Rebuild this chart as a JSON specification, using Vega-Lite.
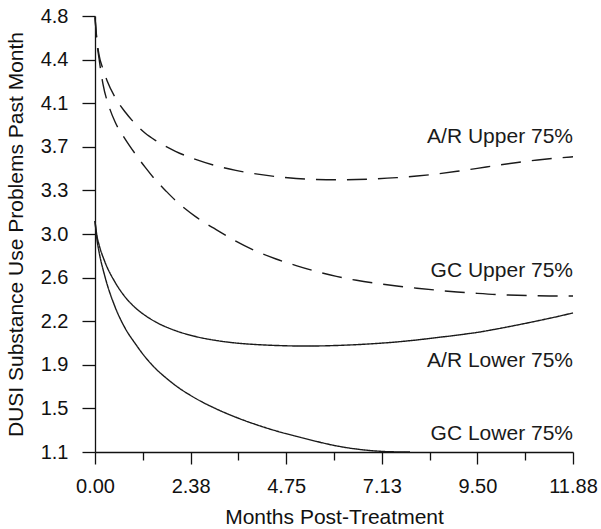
{
  "$schema": "https://vega.github.io/schema/vega-lite/v6.json",
  "width": 478,
  "height": 436,
  "autosize": {"type": "none"},
  "padding": {"left": 95, "top": 16, "right": 28, "bottom": 77},
  "background": "white",
  "config": {
    "view": {"stroke": null},
    "font": "Liberation Sans",
    "axis": {"grid": false, "domainColor": "#111", "labelColor": "#111", "titleColor": "#111", "domainWidth": 1.3, "labelFont": "Liberation Sans", "titleFont": "Liberation Sans", "titleFontWeight": "normal"}
  },
  "datasets": {
    "curves": [
      {"series": "AR Upper", "kind": "dashed", "month": 0, "value": 4.79},
      {"series": "AR Upper", "kind": "dashed", "month": 0.05, "value": 4.59},
      {"series": "AR Upper", "kind": "dashed", "month": 0.1, "value": 4.47},
      {"series": "AR Upper", "kind": "dashed", "month": 0.2, "value": 4.35},
      {"series": "AR Upper", "kind": "dashed", "month": 0.3, "value": 4.25},
      {"series": "AR Upper", "kind": "dashed", "month": 0.5, "value": 4.11},
      {"series": "AR Upper", "kind": "dashed", "month": 0.75, "value": 3.985},
      {"series": "AR Upper", "kind": "dashed", "month": 1.0, "value": 3.885},
      {"series": "AR Upper", "kind": "dashed", "month": 1.25, "value": 3.805},
      {"series": "AR Upper", "kind": "dashed", "month": 1.5, "value": 3.745},
      {"series": "AR Upper", "kind": "dashed", "month": 1.75, "value": 3.695},
      {"series": "AR Upper", "kind": "dashed", "month": 2.0, "value": 3.652},
      {"series": "AR Upper", "kind": "dashed", "month": 2.5, "value": 3.583},
      {"series": "AR Upper", "kind": "dashed", "month": 3.0, "value": 3.53},
      {"series": "AR Upper", "kind": "dashed", "month": 3.5, "value": 3.49},
      {"series": "AR Upper", "kind": "dashed", "month": 4.0, "value": 3.46},
      {"series": "AR Upper", "kind": "dashed", "month": 4.5, "value": 3.437},
      {"series": "AR Upper", "kind": "dashed", "month": 5.0, "value": 3.421},
      {"series": "AR Upper", "kind": "dashed", "month": 5.5, "value": 3.413},
      {"series": "AR Upper", "kind": "dashed", "month": 6.0, "value": 3.41},
      {"series": "AR Upper", "kind": "dashed", "month": 6.5, "value": 3.412},
      {"series": "AR Upper", "kind": "dashed", "month": 7.0, "value": 3.418},
      {"series": "AR Upper", "kind": "dashed", "month": 7.5, "value": 3.428},
      {"series": "AR Upper", "kind": "dashed", "month": 8.0, "value": 3.442},
      {"series": "AR Upper", "kind": "dashed", "month": 8.5, "value": 3.46},
      {"series": "AR Upper", "kind": "dashed", "month": 9.0, "value": 3.482},
      {"series": "AR Upper", "kind": "dashed", "month": 9.5, "value": 3.507},
      {"series": "AR Upper", "kind": "dashed", "month": 10.0, "value": 3.533},
      {"series": "AR Upper", "kind": "dashed", "month": 10.5, "value": 3.557},
      {"series": "AR Upper", "kind": "dashed", "month": 11.0, "value": 3.578},
      {"series": "AR Upper", "kind": "dashed", "month": 11.5, "value": 3.595},
      {"series": "AR Upper", "kind": "dashed", "month": 11.88, "value": 3.605},
      {"series": "GC Upper", "kind": "dashed", "month": 0, "value": 4.79},
      {"series": "GC Upper", "kind": "dashed", "month": 0.05, "value": 4.57},
      {"series": "GC Upper", "kind": "dashed", "month": 0.1, "value": 4.44},
      {"series": "GC Upper", "kind": "dashed", "month": 0.2, "value": 4.22},
      {"series": "GC Upper", "kind": "dashed", "month": 0.35, "value": 4.03},
      {"series": "GC Upper", "kind": "dashed", "month": 0.5, "value": 3.9},
      {"series": "GC Upper", "kind": "dashed", "month": 0.75, "value": 3.755},
      {"series": "GC Upper", "kind": "dashed", "month": 1.0, "value": 3.63},
      {"series": "GC Upper", "kind": "dashed", "month": 1.25, "value": 3.515},
      {"series": "GC Upper", "kind": "dashed", "month": 1.5, "value": 3.41},
      {"series": "GC Upper", "kind": "dashed", "month": 1.75, "value": 3.32},
      {"series": "GC Upper", "kind": "dashed", "month": 2.0, "value": 3.235},
      {"series": "GC Upper", "kind": "dashed", "month": 2.25, "value": 3.162},
      {"series": "GC Upper", "kind": "dashed", "month": 2.5, "value": 3.097},
      {"series": "GC Upper", "kind": "dashed", "month": 2.75, "value": 3.04},
      {"series": "GC Upper", "kind": "dashed", "month": 3.0, "value": 2.99},
      {"series": "GC Upper", "kind": "dashed", "month": 3.5, "value": 2.89},
      {"series": "GC Upper", "kind": "dashed", "month": 4.0, "value": 2.805},
      {"series": "GC Upper", "kind": "dashed", "month": 4.5, "value": 2.738},
      {"series": "GC Upper", "kind": "dashed", "month": 5.0, "value": 2.682},
      {"series": "GC Upper", "kind": "dashed", "month": 5.5, "value": 2.632},
      {"series": "GC Upper", "kind": "dashed", "month": 6.0, "value": 2.59},
      {"series": "GC Upper", "kind": "dashed", "month": 6.5, "value": 2.557},
      {"series": "GC Upper", "kind": "dashed", "month": 7.0, "value": 2.531},
      {"series": "GC Upper", "kind": "dashed", "month": 7.5, "value": 2.509},
      {"series": "GC Upper", "kind": "dashed", "month": 8.0, "value": 2.49},
      {"series": "GC Upper", "kind": "dashed", "month": 8.5, "value": 2.473},
      {"series": "GC Upper", "kind": "dashed", "month": 9.0, "value": 2.458},
      {"series": "GC Upper", "kind": "dashed", "month": 9.5, "value": 2.446},
      {"series": "GC Upper", "kind": "dashed", "month": 10.0, "value": 2.436},
      {"series": "GC Upper", "kind": "dashed", "month": 10.5, "value": 2.43},
      {"series": "GC Upper", "kind": "dashed", "month": 11.0, "value": 2.426},
      {"series": "GC Upper", "kind": "dashed", "month": 11.5, "value": 2.424},
      {"series": "GC Upper", "kind": "dashed", "month": 11.88, "value": 2.424},
      {"series": "AR Lower", "kind": "solid", "month": 0, "value": 3.06},
      {"series": "AR Lower", "kind": "solid", "month": 0.05, "value": 2.93},
      {"series": "AR Lower", "kind": "solid", "month": 0.1, "value": 2.86},
      {"series": "AR Lower", "kind": "solid", "month": 0.25, "value": 2.71},
      {"series": "AR Lower", "kind": "solid", "month": 0.5, "value": 2.54},
      {"series": "AR Lower", "kind": "solid", "month": 0.75, "value": 2.415},
      {"series": "AR Lower", "kind": "solid", "month": 1.0, "value": 2.325},
      {"series": "AR Lower", "kind": "solid", "month": 1.25, "value": 2.258},
      {"series": "AR Lower", "kind": "solid", "month": 1.5, "value": 2.205},
      {"series": "AR Lower", "kind": "solid", "month": 2.0, "value": 2.13},
      {"series": "AR Lower", "kind": "solid", "month": 2.5, "value": 2.08},
      {"series": "AR Lower", "kind": "solid", "month": 3.0, "value": 2.047},
      {"series": "AR Lower", "kind": "solid", "month": 3.5, "value": 2.025},
      {"series": "AR Lower", "kind": "solid", "month": 4.0, "value": 2.012},
      {"series": "AR Lower", "kind": "solid", "month": 4.5, "value": 2.004},
      {"series": "AR Lower", "kind": "solid", "month": 5.0, "value": 2.0},
      {"series": "AR Lower", "kind": "solid", "month": 5.5, "value": 2.0},
      {"series": "AR Lower", "kind": "solid", "month": 6.0, "value": 2.004},
      {"series": "AR Lower", "kind": "solid", "month": 6.5, "value": 2.011},
      {"series": "AR Lower", "kind": "solid", "month": 7.0, "value": 2.021},
      {"series": "AR Lower", "kind": "solid", "month": 7.5, "value": 2.034},
      {"series": "AR Lower", "kind": "solid", "month": 8.0, "value": 2.051},
      {"series": "AR Lower", "kind": "solid", "month": 8.5, "value": 2.071},
      {"series": "AR Lower", "kind": "solid", "month": 9.0, "value": 2.092},
      {"series": "AR Lower", "kind": "solid", "month": 9.5, "value": 2.115},
      {"series": "AR Lower", "kind": "solid", "month": 10.0, "value": 2.145},
      {"series": "AR Lower", "kind": "solid", "month": 10.5, "value": 2.178},
      {"series": "AR Lower", "kind": "solid", "month": 11.0, "value": 2.213},
      {"series": "AR Lower", "kind": "solid", "month": 11.5, "value": 2.25},
      {"series": "AR Lower", "kind": "solid", "month": 11.88, "value": 2.28},
      {"series": "GC Lower", "kind": "solid", "month": 0, "value": 3.06},
      {"series": "GC Lower", "kind": "solid", "month": 0.05, "value": 2.9},
      {"series": "GC Lower", "kind": "solid", "month": 0.1, "value": 2.8},
      {"series": "GC Lower", "kind": "solid", "month": 0.25, "value": 2.585},
      {"series": "GC Lower", "kind": "solid", "month": 0.5, "value": 2.33},
      {"series": "GC Lower", "kind": "solid", "month": 0.75, "value": 2.15},
      {"series": "GC Lower", "kind": "solid", "month": 1.0, "value": 2.02},
      {"series": "GC Lower", "kind": "solid", "month": 1.25, "value": 1.905},
      {"series": "GC Lower", "kind": "solid", "month": 1.5, "value": 1.81},
      {"series": "GC Lower", "kind": "solid", "month": 1.75, "value": 1.733},
      {"series": "GC Lower", "kind": "solid", "month": 2.0, "value": 1.665},
      {"series": "GC Lower", "kind": "solid", "month": 2.5, "value": 1.555},
      {"series": "GC Lower", "kind": "solid", "month": 3.0, "value": 1.468},
      {"series": "GC Lower", "kind": "solid", "month": 3.5, "value": 1.395},
      {"series": "GC Lower", "kind": "solid", "month": 4.0, "value": 1.333},
      {"series": "GC Lower", "kind": "solid", "month": 4.5, "value": 1.279},
      {"series": "GC Lower", "kind": "solid", "month": 5.0, "value": 1.233},
      {"series": "GC Lower", "kind": "solid", "month": 5.5, "value": 1.19},
      {"series": "GC Lower", "kind": "solid", "month": 6.0, "value": 1.152},
      {"series": "GC Lower", "kind": "solid", "month": 6.5, "value": 1.125},
      {"series": "GC Lower", "kind": "solid", "month": 7.0, "value": 1.108},
      {"series": "GC Lower", "kind": "solid", "month": 7.5, "value": 1.101},
      {"series": "GC Lower", "kind": "solid", "month": 7.83, "value": 1.1}
    ],
    "labels": [
      {"label": "A/R Upper 75%", "month": 11.88, "value": 3.722},
      {"label": "GC Upper 75%", "month": 11.88, "value": 2.585},
      {"label": "A/R Lower 75%", "month": 11.88, "value": 1.821},
      {"label": "GC Lower 75%", "month": 11.88, "value": 1.2}
    ]
  },
  "layer": [
    {
      "data": {"name": "curves"},
      "mark": {"type": "line", "interpolate": "monotone", "strokeWidth": 1.4, "color": "#1a1a1a"},
      "encoding": {
        "x": {
          "field": "month", "type": "quantitative",
          "scale": {"domain": [0, 11.88], "nice": false, "zero": false},
          "axis": {
            "title": "Months Post-Treatment",
            "titleFontSize": 21,
            "titleY": 71,
            "titleBaseline": "alphabetic",
            "values": [0, 0.594, 1.188, 1.782, 2.376, 2.97, 3.564, 4.158, 4.752, 5.346, 5.94, 6.534, 7.128, 7.722, 8.316, 8.91, 9.504, 10.098, 10.692, 11.286, 11.88],
            "ticks": true,
            "tickColor": "#111",
            "tickOpacity": 1,
            "tickWidth": 1.3,
            "tickSize": {"condition": {"test": "round(datum.value/0.594) % 4 == 0", "value": 12}, "value": 8},
            "labelExpr": "round(datum.value/0.594) % 4 == 0 ? ['0.00','2.38','4.75','7.13','9.50','11.88'][round(datum.value/2.376)] : ''",
            "labelFontSize": 20,
            "labelPadding": 12,
            "labelOverlap": false,
            "labelFlush": false
          }
        },
        "y": {
          "field": "value", "type": "quantitative",
          "scale": {"domain": [1.1, 4.8], "nice": false, "zero": false},
          "axis": {
            "title": "DUSI Substance Use Problems Past Month",
            "titleFontSize": 21,
            "titleX": -79,
            "titleY": 218,
            "titleBaseline": "middle",
            "titleAngle": -90,
            "values": [1.1, 1.47, 1.84, 2.21, 2.58, 2.95, 3.32, 3.69, 4.06, 4.43, 4.8],
            "labelExpr": "['1.1','1.5','1.9','2.2','2.6','3.0','3.3','3.7','4.1','4.4','4.8'][round((datum.value-1.1)/0.37)]",
            "ticks": true,
            "tickColor": "#111",
            "tickOpacity": 1,
            "tickWidth": 1.3,
            "tickSize": 13,
            "labelFontSize": 20,
            "labelPadding": 14,
            "labelOverlap": false,
            "labelFlush": false
          }
        },
        "detail": {"field": "series"},
        "strokeDash": {"field": "kind", "type": "nominal", "scale": {"domain": ["dashed", "solid"], "range": [[20, 11], [1, 0]]}, "legend": null}
      }
    },
    {
      "data": {"name": "labels"},
      "mark": {"type": "text", "align": "right", "baseline": "alphabetic", "fontSize": 21, "font": "Liberation Sans", "color": "#1a1a1a"},
      "encoding": {
        "x": {"field": "month", "type": "quantitative"},
        "y": {"field": "value", "type": "quantitative"},
        "text": {"field": "label"}
      }
    }
  ]
}
